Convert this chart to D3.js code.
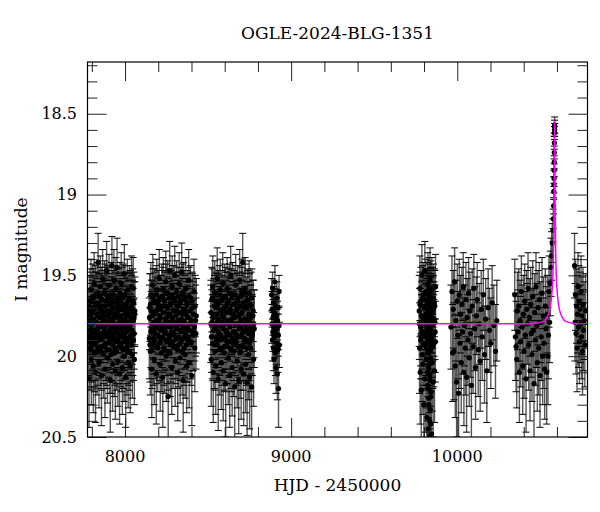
<!DOCTYPE html>
<html>
<head>
<meta charset="utf-8">
<script src="https://cdn.jsdelivr.net/npm/d3@7"></script>
<style>
  body{margin:0;background:#fff;}
  text{font-family:"DejaVu Serif",serif;fill:#000;}
</style>
</head>
<body>
<svg id="chart" width="600" height="512"></svg>
<script>
// photometry, HJD-2450000, I mag, error  (arrays per season)
let s1=[
[7781,19.88,.24],[7783,20.14,.30],[7786,19.72,.21],[7788,19.95,.26],[7790,19.66,.20],[7793,19.81,.23],[7795,19.59,.19],[7797,20.02,.28],[7800,19.77,.22],[7802,19.90,.25],
[7805,19.63,.20],[7807,19.84,.24],[7809,20.06,.29],[7812,19.71,.21],[7814,19.55,.19],[7817,19.93,.26],[7819,19.79,.23],[7822,20.10,.31],[7824,19.68,.20],[7826,19.86,.24],
[7829,19.74,.22],[7831,19.97,.27],[7834,19.61,.19],[7836,19.83,.23],[7838,19.42,.18],[7841,19.89,.25],[7843,20.04,.28],[7846,19.70,.21],[7848,19.80,.23],[7851,19.57,.19],
[7853,19.94,.26],[7855,19.76,.22],[7858,20.12,.31],[7860,19.65,.20],[7863,19.87,.25],[7865,19.52,.18],[7867,19.78,.22],[7870,19.99,.27],[7872,19.73,.21],[7875,19.85,.24],
[7877,19.60,.19],[7879,20.08,.30],[7882,19.81,.23],[7884,19.69,.20],[7887,19.92,.26],[7889,19.47,.18],[7892,19.75,.22],[7894,20.01,.28],[7896,19.64,.20],[7899,19.88,.25],
[7901,19.79,.23],[7904,19.56,.19],[7906,19.96,.27],[7908,19.72,.21],[7911,20.15,.32],[7913,19.84,.24],[7916,19.62,.20],[7918,19.90,.25],[7921,19.44,.18],[7923,19.77,.22],
[7925,20.05,.29],[7928,19.67,.20],[7930,19.86,.24],[7933,19.53,.19],[7935,19.98,.27],[7937,19.74,.22],[7940,19.82,.23],[7942,20.09,.30],[7945,19.58,.19],[7947,19.91,.26],
[7950,19.70,.21],[7952,19.45,.18],[7954,19.83,.24],[7957,20.03,.28],[7959,19.66,.20],[7962,19.87,.25],[7964,19.76,.22],[7967,20.11,.31],[7969,19.61,.19],[7972,19.93,.26],
[7974,19.80,.23],[7977,19.55,.19],[7979,19.95,.27],[7982,19.71,.21],[7984,20.07,.29],[7986,19.85,.24],[7989,19.63,.20],[7991,19.78,.22],[7994,20.00,.28],[7996,19.49,.18],
[7999,19.89,.25],[8001,19.73,.21],[8004,20.13,.31],[8006,19.68,.20],[8009,19.82,.23],[8011,19.97,.27],[8014,19.59,.19],[8016,19.84,.24],[8019,20.04,.28],[8021,19.75,.22],
[8024,19.92,.26],[8026,19.64,.20],[8029,19.81,.23],[8031,20.06,.29],[8034,19.70,.21],[8036,19.87,.25],[8039,19.57,.19],[8041,19.79,.22],[8044,19.99,.27],[8046,19.66,.20],
[8049,19.58,.19],[8051,19.90,.25],[8054,19.76,.22],[8056,20.02,.28],[8059,19.72,.21]
];
let s1b=[
[7782,19.78,.20],[7785,19.91,.22],[7787,19.69,.19],[7789,19.84,.21],[7792,19.75,.20],[7794,19.96,.23],[7796,19.66,.18],[7799,19.87,.22],[7801,19.72,.19],[7804,19.93,.23],
[7806,19.80,.20],[7808,19.64,.18],[7811,19.89,.22],[7813,19.77,.20],[7816,19.98,.24],[7818,19.70,.19],[7821,19.85,.21],[7823,19.62,.18],[7825,19.92,.23],[7828,19.79,.20],
[7830,19.67,.19],[7833,19.88,.22],[7835,19.74,.20],[7837,19.95,.23],[7840,19.82,.21],[7842,19.68,.19],[7845,19.90,.22],[7847,19.76,.20],[7850,19.63,.18],[7852,19.86,.22],
[7854,19.71,.19],[7857,19.97,.24],[7859,19.81,.21],[7862,19.65,.18],[7864,19.89,.22],[7866,19.74,.20],[7869,19.94,.23],[7871,19.69,.19],[7874,19.83,.21],[7876,19.78,.20],
[7878,19.61,.18],[7881,19.92,.23],[7883,19.75,.20],[7886,19.87,.22],[7888,19.66,.18],[7891,19.96,.24],[7893,19.80,.21],[7895,19.72,.19],[7898,19.85,.22],[7900,19.63,.18],
[7903,19.91,.23],[7905,19.77,.20],[7907,19.68,.19],[7910,19.88,.22],[7912,19.73,.20],[7915,19.99,.24],[7917,19.82,.21],[7920,19.65,.18],[7922,19.86,.22],[7924,19.70,.19],
[7927,19.93,.23],[7929,19.79,.20],[7932,19.62,.18],[7934,19.89,.22],[7936,19.76,.20],[7939,19.95,.23],[7941,19.67,.19],[7944,19.84,.21],[7946,19.74,.20],[7949,19.97,.24],
[7951,19.81,.21],[7953,19.64,.18],[7956,19.90,.22],[7958,19.72,.19],[7961,19.86,.22],[7963,19.69,.19],[7966,19.94,.23],[7968,19.78,.20],[7971,19.66,.18],[7973,19.88,.22],
[7976,19.75,.20],[7978,19.92,.23],[7981,19.63,.18],[7983,19.83,.21],[7985,19.71,.19],[7988,19.96,.24],[7990,19.80,.21],[7993,19.68,.19],[7995,19.87,.22],[7998,19.77,.20],
[8000,19.62,.18],[8003,19.91,.23],[8005,19.74,.20],[8008,19.85,.22],[8010,19.70,.19],[8013,19.94,.23],[8015,19.79,.20],[8018,19.66,.18],[8020,19.89,.22],[8023,19.73,.20],
[8025,19.97,.24],[8028,19.82,.21],[8030,19.65,.18],[8033,19.88,.22],[8035,19.76,.20],[8038,19.93,.23],[8040,19.69,.19],[8043,19.84,.21],[8045,19.72,.19],[8048,19.90,.22],
[8050,19.78,.20],[8053,19.67,.19],[8055,19.86,.22],[8058,19.74,.20]
];
let s2=[
[8146,19.89,.25],[8149,19.70,.21],[8152,19.97,.27],[8155,19.62,.20],[8158,19.84,.24],[8161,20.08,.30],[8164,19.75,.22],[8167,19.56,.19],[8170,19.92,.26],[8173,19.79,.23],
[8176,20.02,.28],[8179,19.66,.20],[8182,19.86,.25],[8185,19.73,.22],[8188,20.11,.31],[8191,19.59,.19],[8194,19.81,.23],[8197,19.95,.27],[8200,19.68,.21],[8203,19.88,.25],
[8206,19.52,.18],[8209,19.77,.22],[8212,20.05,.29],[8215,19.71,.21],[8218,19.90,.26],[8221,19.63,.20],[8224,19.83,.24],[8227,20.13,.31],[8230,19.58,.19],[8233,19.80,.23],
[8236,19.96,.27],[8239,19.69,.21],[8242,19.85,.24],[8245,19.54,.19],[8248,20.00,.28],[8251,19.76,.22],[8254,19.91,.26],[8257,19.61,.20],[8260,20.25,.33],[8263,19.74,.22],
[8266,19.87,.25],[8269,19.47,.18],[8272,19.98,.27],[8275,19.67,.20],[8278,19.82,.24],[8281,20.07,.29],[8284,19.57,.19],[8287,19.78,.23],[8290,19.94,.26],[8293,19.64,.20],
[8296,19.86,.25],[8299,19.50,.18],[8302,20.03,.28],[8305,19.72,.21],[8308,19.89,.25],[8311,19.60,.19],[8314,19.81,.23],[8317,20.10,.30],[8320,19.69,.21],[8323,19.93,.26],
[8326,19.55,.19],[8329,19.79,.23],[8332,20.01,.28],[8335,19.65,.20],[8338,19.84,.24],[8341,19.48,.18],[8344,19.97,.27],[8347,19.74,.22],[8350,20.15,.32],[8353,19.62,.20],
[8356,19.88,.25],[8359,19.71,.21],[8362,19.99,.27],[8365,19.58,.19],[8368,19.83,.24],[8371,20.06,.29],[8374,19.67,.20],[8377,19.90,.26],[8380,19.76,.22],[8383,19.53,.19],
[8386,20.04,.28],[8390,19.80,.23],[8394,19.64,.20],[8398,19.92,.26],[8402,20.12,.31],[8406,19.70,.21],[8410,19.85,.24],[8415,19.60,.20],[8420,19.95,.27],[8425,19.78,.22],
[8429,19.75,.23]
];
let s2b=[
[8147,19.76,.20],[8150,19.93,.23],[8153,19.68,.19],[8156,19.85,.22],[8159,19.72,.19],[8162,19.96,.24],[8165,19.80,.21],[8168,19.64,.18],[8171,19.89,.22],[8174,19.74,.20],
[8177,19.91,.23],[8180,19.67,.19],[8183,19.83,.21],[8186,19.78,.20],[8189,19.62,.18],[8192,19.94,.23],[8195,19.71,.19],[8198,19.87,.22],[8201,19.79,.20],[8204,19.65,.18],
[8207,19.92,.23],[8210,19.75,.20],[8213,19.84,.21],[8216,19.69,.19],[8219,19.98,.24],[8222,19.81,.21],[8225,19.63,.18],[8228,19.88,.22],[8231,19.73,.20],[8234,19.95,.23],
[8237,19.66,.19],[8240,19.86,.22],[8243,19.77,.20],[8246,19.90,.22],[8249,19.61,.18],[8252,19.82,.21],[8255,19.70,.19],[8258,19.97,.24],[8261,19.79,.20],[8264,19.64,.18],
[8267,19.89,.22],[8270,19.74,.20],[8273,19.93,.23],[8276,19.68,.19],[8279,19.85,.22],[8282,19.76,.20],[8285,19.62,.18],[8288,19.91,.23],[8291,19.72,.19],[8294,19.87,.22],
[8297,19.80,.21],[8300,19.66,.18],[8303,19.94,.23],[8306,19.75,.20],[8309,19.83,.21],[8312,19.69,.19],[8315,19.96,.24],[8318,19.78,.20],[8321,19.63,.18],[8324,19.88,.22],
[8327,19.73,.20],[8330,19.92,.23],[8333,19.67,.19],[8336,19.84,.21],[8339,19.77,.20],[8342,19.90,.22],[8345,19.61,.18],[8348,19.81,.21],[8351,19.71,.19],[8354,19.95,.23],
[8357,19.79,.20],[8360,19.65,.18],[8363,19.86,.22],[8366,19.74,.20],[8369,19.93,.23],[8372,19.68,.19],[8375,19.82,.21],[8378,19.76,.20],[8381,19.89,.22],[8385,19.63,.18],
[8388,19.84,.21],[8392,19.72,.19],[8396,19.91,.23],[8400,19.78,.20],[8404,19.66,.18],[8408,19.87,.22],[8412,19.74,.20],[8417,19.82,.21],[8422,19.69,.19],[8427,19.86,.22]
];
let s3=[
[8516,19.80,.24],[8519,20.02,.29],[8522,19.65,.20],[8525,19.88,.26],[8528,19.57,.19],[8531,20.10,.31],[8534,19.74,.22],[8537,19.93,.27],[8540,19.61,.20],[8543,19.83,.24],
[8546,20.06,.30],[8549,19.70,.21],[8552,19.90,.26],[8555,19.52,.19],[8558,19.78,.23],[8561,20.14,.32],[8564,19.67,.20],[8567,19.86,.25],[8570,19.96,.28],[8573,19.59,.19],
[8576,19.81,.24],[8579,20.04,.29],[8582,19.72,.22],[8585,19.89,.26],[8588,19.55,.19],[8591,20.09,.31],[8594,19.76,.22],[8597,19.94,.27],[8600,19.63,.20],[8603,19.84,.24],
[8606,20.17,.33],[8609,19.69,.21],[8612,19.91,.26],[8615,19.58,.19],[8618,19.79,.23],[8621,20.01,.29],[8624,19.66,.20],[8627,19.87,.25],[8630,20.12,.32],[8633,19.73,.22],
[8636,19.50,.18],[8639,19.95,.27],[8642,19.77,.23],[8645,20.07,.30],[8648,19.62,.20],[8651,19.85,.25],[8654,19.97,.28],[8657,19.68,.21],[8660,20.19,.34],[8663,19.80,.24],
[8666,19.56,.19],[8669,19.92,.26],[8672,19.71,.22],[8675,20.03,.29],[8678,19.64,.20],[8681,19.88,.25],[8684,20.15,.33],[8687,19.75,.22],[8690,19.53,.19],[8693,19.98,.28],
[8696,19.82,.24],[8699,20.08,.31],[8702,19.60,.20],[8705,19.86,.25],[8708,19.42,.18],[8711,19.94,.27],[8714,20.11,.32],[8717,19.70,.21],[8720,19.89,.26],[8723,19.58,.19],
[8726,20.05,.30],[8729,19.77,.23],[8732,19.91,.26],[8735,20.16,.33],[8738,19.66,.20],[8741,19.84,.24],[8744,19.99,.28],[8747,19.61,.20],[8750,20.13,.32],[8753,19.79,.23],
[8756,19.95,.27],[8759,19.69,.21],[8762,20.19,.34],[8766,19.87,.25],[8770,19.75,.22],[8774,20.02,.29],[8778,19.83,.24]
];
let s3b=[
[8517,19.73,.20],[8520,19.88,.22],[8523,19.79,.20],[8526,19.64,.18],[8529,19.92,.23],[8532,19.76,.20],[8535,19.84,.21],[8538,19.69,.19],[8541,19.97,.24],[8544,19.81,.21],
[8547,19.66,.18],[8550,19.89,.22],[8553,19.74,.20],[8556,19.93,.23],[8559,19.68,.19],[8562,19.85,.22],[8565,19.77,.20],[8568,19.62,.18],[8571,19.90,.22],[8574,19.72,.19],
[8577,19.87,.22],[8580,19.79,.20],[8583,19.65,.18],[8586,19.95,.23],[8589,19.75,.20],[8592,19.83,.21],[8595,19.70,.19],[8598,19.98,.24],[8601,19.80,.21],[8604,19.63,.18],
[8607,19.88,.22],[8610,19.73,.20],[8613,19.94,.23],[8616,19.67,.19],[8619,19.86,.22],[8622,19.78,.20],[8625,19.91,.22],[8628,19.61,.18],[8631,19.82,.21],[8634,19.71,.19],
[8637,19.96,.24],[8640,19.79,.20],[8643,19.64,.18],[8646,19.89,.22],[8649,19.74,.20],[8652,19.92,.23],[8655,19.68,.19],[8658,19.85,.22],[8661,19.76,.20],[8664,19.62,.18],
[8667,19.90,.22],[8670,19.72,.19],[8673,19.87,.22],[8676,19.80,.21],[8679,19.66,.18],[8682,19.94,.23],[8685,19.75,.20],[8688,19.83,.21],[8691,19.69,.19],[8694,19.97,.24],
[8697,19.78,.20],[8700,19.63,.18],[8703,19.88,.22],[8706,19.73,.20],[8709,19.93,.23],[8712,19.67,.19],[8715,19.84,.21],[8718,19.77,.20],[8721,19.90,.22],[8724,19.61,.18],
[8727,19.81,.21],[8730,19.70,.19],[8733,19.95,.23],[8736,19.79,.20],[8739,19.65,.18],[8742,19.86,.22],[8745,19.74,.20],[8748,19.92,.23],[8751,19.68,.19],[8754,19.83,.21],
[8757,19.76,.20],[8760,19.89,.22],[8764,19.64,.18],[8768,19.85,.22],[8772,19.72,.19],[8776,19.80,.21]
];
let s4=[
[8882,19.62,.10],[8884,19.80,.12],[8885,19.71,.11],[8887,19.90,.13],[8888,19.58,.10],[8890,19.85,.12],[8891,19.76,.11],[8893,19.95,.14],[8894,19.67,.10],[8896,19.82,.12],
[8897,20.02,.15],[8899,19.73,.11],[8900,19.88,.13],[8902,19.54,.10],[8903,19.79,.12],[8905,19.98,.14],[8906,19.69,.11],[8908,19.86,.12],[8909,20.07,.16],[8911,19.75,.11],
[8912,19.92,.13],[8914,19.64,.10],[8915,19.83,.12],[8917,20.11,.16],[8918,19.78,.12],[8920,19.96,.14],[8921,19.70,.11],[8923,19.87,.13],[8924,20.20,.24],[8926,19.81,.12],
[8927,19.60,.10],[8929,19.93,.14]
];
let s5=[
[9771,19.72,.22],[9773,19.95,.28],[9775,19.58,.20],[9777,20.10,.32],[9779,19.82,.24],[9781,19.66,.21],[9783,20.21,.35],[9785,19.88,.26],[9787,19.50,.19],[9789,19.99,.29],
[9791,19.76,.23],[9793,20.05,.31],[9795,19.62,.20],[9797,19.85,.25],[9799,20.30,.38],[9801,19.70,.22],[9803,19.93,.27],[9805,19.47,.18],[9807,20.14,.33],[9809,19.79,.24],
[9811,19.60,.20],[9813,20.02,.30],[9815,19.86,.26],[9817,20.38,.40],[9819,19.68,.21],[9821,19.91,.27],[9822,20.18,.34],[9823,19.55,.19],[9824,19.81,.24],[9825,20.45,.42],
[9826,19.74,.23],[9827,20.07,.31],[9828,19.97,.29],[9829,19.63,.20],[9830,20.26,.37],[9831,19.84,.25],[9832,20.50,.45],[9833,19.71,.22],[9834,20.12,.33],[9835,19.89,.26],
[9836,19.52,.19],[9837,20.33,.39],[9838,19.78,.24],[9839,20.01,.30],[9840,20.42,.44],[9841,19.66,.21],[9842,19.94,.28],[9843,20.22,.36],[9844,19.80,.24],[9845,20.48,.46],
[9847,19.59,.20],[9849,20.04,.30],[9851,19.87,.26],[9853,19.73,.22],[9855,20.16,.34],[9857,19.64,.21],[9859,19.92,.27],[9861,19.77,.23],[9863,20.09,.32],[9865,19.69,.22],
[9867,19.85,.25],[9869,19.57,.20]
];
let s5b=[
[9772,19.80,.22],[9776,19.68,.20],[9780,19.90,.24],[9784,19.75,.21],[9788,19.85,.23],[9792,19.64,.20],[9796,19.93,.25],[9800,19.78,.22],[9804,19.70,.21],[9808,19.88,.24],
[9812,19.74,.22],[9814,19.95,.26],[9816,19.66,.20],[9818,19.83,.23],[9820,20.10,.30],[9821.5,19.77,.22],[9822.5,19.62,.20],[9823.5,19.98,.27],[9824.5,19.72,.22],[9825.5,20.20,.34],
[9826.5,19.86,.24],[9827.5,19.69,.21],[9828.5,20.30,.38],[9829.5,19.82,.23],[9830.5,19.58,.19],[9831.5,20.05,.30],[9832.5,19.75,.22],[9833.5,19.92,.26],[9834.5,20.40,.42],[9835.5,19.67,.21],
[9836.5,19.87,.24],[9837.5,20.15,.33],[9838.5,19.73,.22],[9839.5,19.96,.27],[9840.5,19.61,.20],[9841.5,20.25,.36],[9842.5,19.84,.24],[9843.5,19.70,.21],[9846,19.90,.25],[9848,19.76,.22],
[9850,19.65,.20],[9852,19.94,.26],[9854,19.80,.23],[9856,19.71,.21],[9858,19.86,.24],[9862,19.67,.21],[9866,19.79,.23],[9868,19.91,.25]
];
let s6=[
[9962,19.82,.26],[9968,19.60,.22],[9972,19.98,.30],[9976,19.71,.24],[9980,19.97,.30],[9984,19.54,.21],[9988,20.06,.32],[9992,19.78,.25],[9996,20.16,.34],[10000,19.66,.23],
[10004,19.87,.27],[10008,20.23,.36],[10012,19.62,.22],[10016,19.92,.28],[10020,19.74,.24],[10024,20.04,.31],[10028,19.68,.23],[10032,19.85,.26],[10036,19.57,.21],[10040,20.10,.33],
[10044,19.81,.25],[10048,19.95,.29],[10052,19.65,.23],[10056,20.13,.34],[10060,19.76,.24],[10064,19.90,.28],[10068,19.61,.22],[10072,20.01,.30],[10076,19.72,.24],[10080,19.86,.27],
[10085,20.18,.35],[10090,19.69,.23],[10095,19.94,.29],[10100,19.58,.21],[10105,19.83,.26],[10110,20.07,.32],[10115,19.75,.24],[10120,19.65,.23],[10126,19.96,.29],[10132,19.80,.25],
[10138,20.03,.31],[10144,19.71,.24],[10150,19.88,.27],[10157,19.62,.22],[10164,19.99,.30],[10171,19.77,.25],[10178,20.09,.32],[10186,19.70,.24],[10194,19.84,.26],[10202,19.92,.28],
[10210,19.67,.23],[10220,19.81,.25],[10230,19.97,.29],[10238,19.78,.25]
];
let s7=[
[10346,19.62,.22],[10350,19.88,.27],[10354,19.94,.28],[10358,20.02,.30],[10362,19.72,.24],[10366,19.85,.26],[10370,19.69,.23],[10374,20.10,.31],[10378,19.78,.25],[10382,19.91,.28],
[10386,19.60,.22],[10390,19.82,.26],[10394,20.06,.30],[10398,19.74,.24],[10402,19.97,.29],[10406,19.66,.23],[10410,19.87,.27],[10414,20.14,.33],[10418,19.71,.24],[10422,19.80,.25],
[10426,19.58,.22],[10430,19.93,.28],[10434,19.76,.24],[10438,20.09,.31],[10442,19.68,.23],[10446,19.86,.27],[10450,19.99,.29],[10454,19.63,.22],[10458,19.84,.26],[10462,20.17,.34],
[10466,19.73,.24],[10470,19.90,.28],[10474,19.57,.21],[10478,19.81,.26],[10482,20.04,.30],[10486,19.70,.23],[10490,19.95,.29],[10494,19.65,.23],[10498,20.12,.32],[10502,19.79,.25],
[10506,19.88,.27],[10510,19.61,.22],[10514,20.00,.30],[10518,19.75,.24],[10522,19.92,.28],[10526,20.08,.31],[10530,19.69,.23],[10534,19.83,.26],[10538,20.10,.32],[10542,19.74,.24],
[10546,20.00,.30],[10549,19.87,.27],[10552,19.60,.22],[10556,19.79,.25],[10560,19.55,.20],[10564,19.45,.18],[10568,19.38,.15],[10572,19.30,.12]
];
let peak=[
[10576,19.22,.07],[10578,19.15,.06],[10580,19.07,.05],[10581,18.98,.05],[10582,18.94,.05],[10582.5,18.90,.05],[10583,18.85,.04],[10583.5,18.80,.04],
[10584,18.74,.04],[10584.5,18.68,.04],[10585,18.62,.04],[10585.5,18.58,.04],[10586,18.60,.04],[10586.3,18.57,.05]
];
let s8=[
[10706,19.44,.20],[10709,19.79,.24],[10712,19.62,.22],[10715,19.86,.25],[10718,19.69,.23],[10721,19.95,.27],[10724,19.74,.24],[10727,19.57,.21],[10730,19.82,.25],[10733,19.66,.22],
[10736,19.91,.26],[10739,19.71,.23],[10742,19.80,.24],[10745,19.60,.22],[10748,19.88,.26],[10751,19.75,.24],[10754,19.97,.27],[10757,19.68,.23],[10760,19.84,.25],[10764,19.78,.24],
[10768,19.93,.26],[10772,19.72,.23]
];
// fitted model
let modelT=[7774,10450,10520,10540,10555,10565,10572,10576,10579,10581,10583,10585,10586,10587,10589,10591,10593,10596,10600,10607,10617,10632,10652,10720,10784];
let modelM=[19.80,19.80,19.785,19.76,19.72,19.66,19.58,19.50,19.38,19.25,19.05,18.80,18.55,18.80,19.05,19.25,19.38,19.50,19.58,19.66,19.72,19.76,19.785,19.80,19.80];
let xTicks=[8000,9000,10000];
let yTicks=[18.5,19,19.5,20,20.5];

const L=87.5,R=587.5,T=62,B=437;
let x=d3.scaleLinear().domain([7774,10784]).range([L,R]);
let y=d3.scaleLinear().domain([18.18,20.5]).range([T,B]);

let svg=d3.select("#chart");
svg.append("defs").append("clipPath").attr("id","plotclip")
  .append("rect").attr("x",L).attr("y",T).attr("width",R-L).attr("height",B-T);

let pts=[].concat(s1,s1b,s2,s2b,s3,s3b,s4,s5,s5b,s6,s7,peak,s8);
let g=svg.append("g").attr("clip-path","url(#plotclip)");

g.append("g").selectAll("line").data(pts).enter().append("line")
  .attr("x1",(d)=>x(d[0])).attr("x2",(d)=>x(d[0]))
  .attr("y1",(d)=>y(d[1]-d[2])).attr("y2",(d)=>y(d[1]+d[2]))
  .attr("stroke","#555").attr("stroke-width",1.4);
let caps=g.append("g").attr("stroke","#000").attr("stroke-width",1);
[-1,1].forEach((s)=>{
  caps.selectAll("line.c"+(s+1)).data(pts).enter().append("line")
    .attr("class","c"+(s+1))
    .attr("x1",(d)=>x(d[0])-3.5).attr("x2",(d)=>x(d[0])+3.5)
    .attr("y1",(d)=>y(d[1]+s*d[2])).attr("y2",(d)=>y(d[1]+s*d[2]));
});
g.append("g").selectAll("circle").data(pts).enter().append("circle")
  .attr("cx",(d)=>x(d[0])).attr("cy",(d)=>y(d[1])).attr("r",2.6).attr("fill","#000");

let model=d3.line().x((d,i)=>x(modelT[i])).y((d)=>y(d)).curve(d3.curveMonotoneX);
g.append("path").attr("d",model(modelM))
  .attr("fill","none").attr("stroke","#ff00ff").attr("stroke-width",1.5);

// frame + inward ticks on all sides
let minorX=d3.range(7800,10784,200).filter((v)=>v%1000!==0);
let minorY=d3.range(18.2,20.5,0.1).map((v)=>+v.toFixed(1)).filter((v)=>yTicks.indexOf(v)<0);
const tickG=(axis,tr)=>{
  let a=svg.append("g").attr("transform",tr).call(axis);
  a.select(".domain").remove();
  a.selectAll("text").remove();
  a.selectAll("line").attr("stroke","#222");
};
[[d3.axisBottom,`translate(0,${B})`],[d3.axisTop,`translate(0,${T})`]].forEach(([f,tr])=>{
  tickG(f(x).tickValues(xTicks).tickSize(-19),tr);
  tickG(f(x).tickValues(minorX).tickSize(-10),tr);
});
[[d3.axisLeft,`translate(${L},0)`],[d3.axisRight,`translate(${R},0)`]].forEach(([f,tr])=>{
  tickG(f(y).tickValues(yTicks).tickSize(-19),tr);
  tickG(f(y).tickValues(minorY).tickSize(-10),tr);
});
svg.append("rect").attr("x",L).attr("y",T).attr("width",R-L).attr("height",B-T)
  .attr("fill","none").attr("stroke","#000").attr("stroke-width",1.2);

svg.append("g").selectAll("text").data(xTicks).enter().append("text")
  .attr("x",(d)=>x(d)).attr("y",462).attr("text-anchor","middle")
  .style("font-size","16px").text((d)=>d);
svg.append("g").selectAll("text").data(yTicks).enter().append("text")
  .attr("x",77).attr("y",(d)=>y(d)).attr("dy","0.36em").attr("text-anchor","end")
  .style("font-size","16px").text((d)=>String(d));

svg.append("text").attr("x",(L+R)/2).attr("y",39).attr("text-anchor","middle")
  .style("font-size","17px").text("OGLE-2024-BLG-1351");
svg.append("text").attr("x",(L+R)/2).attr("y",491).attr("text-anchor","middle")
  .style("font-size","17px").text("HJD - 2450000");
svg.append("text").attr("transform",`translate(27,${(T+B)/2}) rotate(-90)`)
  .attr("text-anchor","middle").style("font-size","17px").text("I magnitude");
</script>
</body>
</html>
